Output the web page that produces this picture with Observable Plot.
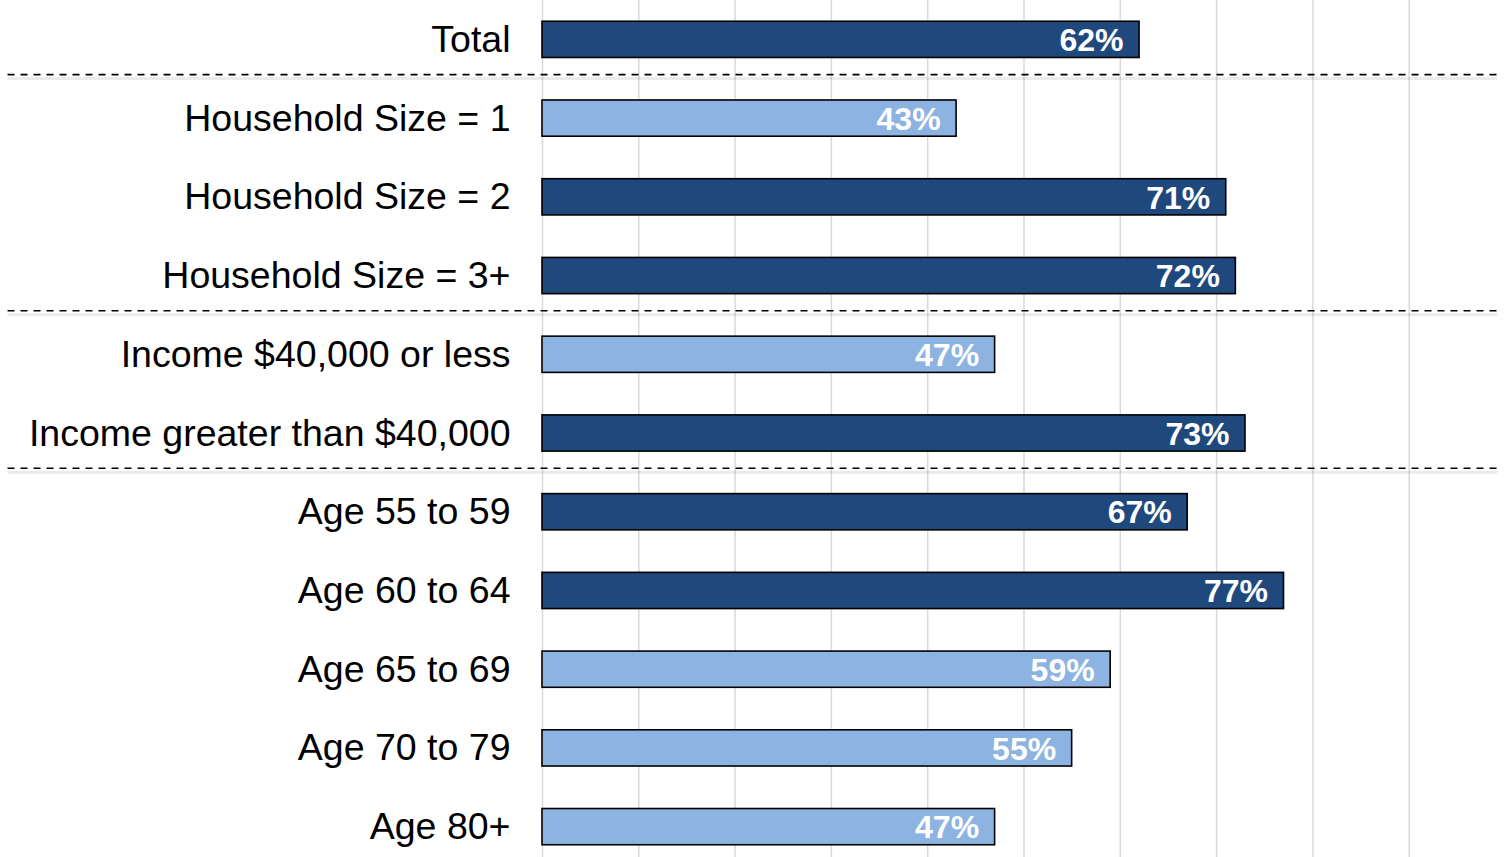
<!DOCTYPE html>
<html>
<head>
<meta charset="utf-8">
<script src="https://cdn.jsdelivr.net/npm/d3@7"></script>
<script src="https://cdn.jsdelivr.net/npm/@observablehq/plot@0.6"></script>
<style>
  html, body { margin: 0; padding: 0; background: #fff; }
  #chart svg { display: block; }
</style>
</head>
<body>
<div id="chart"></div>
<script>
const categories = [
  "Total",
  "Household Size = 1",
  "Household Size = 2",
  "Household Size = 3+",
  "Income $40,000 or less",
  "Income greater than $40,000",
  "Age 55 to 59",
  "Age 60 to 64",
  "Age 65 to 69",
  "Age 70 to 79",
  "Age 80+"
];
const values = [62, 43, 71, 72, 47, 73, 67, 77, 59, 55, 47];
const shade = ["dark", "light", "dark", "dark", "light", "dark", "dark", "dark", "light", "light", "light"];
// categories that have a dashed separator above them
const separatorsBefore = ["Household Size = 1", "Income $40,000 or less", "Age 55 to 59"];
const gridTicks = [0, 10, 20, 30, 40, 50, 60, 70, 80, 90];

const rows = categories.map((c, i) => ({category: c, value: values[i], shade: shade[i]}));

const chart = Plot.plot({
  width: 1505,
  height: 857,
  marginLeft: 542,
  marginRight: 0,
  marginTop: 0,
  marginBottom: 0,
  style: {fontFamily: "'Liberation Sans', Arial, Helvetica, sans-serif", background: "#fff"},
  x: {domain: [0, 100], axis: null},
  y: {domain: categories, range: [0, 866], paddingInner: 0.54, paddingOuter: 0.27, round: false, label: null},
  color: {domain: ["dark", "light"], range: ["#1f497d", "#8db3e2"]},
  marks: [
    Plot.ruleX(gridTicks, {x: d => d, stroke: "#d9d9d9", strokeWidth: 1.5}),
    Plot.ruleY(separatorsBefore, {y: d => d, x1: -55.5, x2: 99.2, dy: -40, stroke: "#000", strokeOpacity: 0.08, strokeWidth: 3}),
    Plot.ruleY(separatorsBefore, {y: d => d, x1: -55.5, x2: 99.2, dy: -44, stroke: "#000", strokeWidth: 1.6, strokeDasharray: "7,6"}),
    Plot.barX(rows, {y: "category", x: "value", fill: "shade", stroke: "#000", strokeWidth: 1.6}),
    Plot.text(rows, {y: "category", x: "value", text: d => d.value + "%", textAnchor: "end", dx: -16, dy: 1, fill: "#fff", fontWeight: "bold", fontSize: 32}),
    Plot.axisY({tickSize: 0, tickPadding: 32, fontSize: 37.5, fill: "#000", label: null})
  ]
});
document.getElementById("chart").appendChild(chart);
</script>
</body>
</html>
